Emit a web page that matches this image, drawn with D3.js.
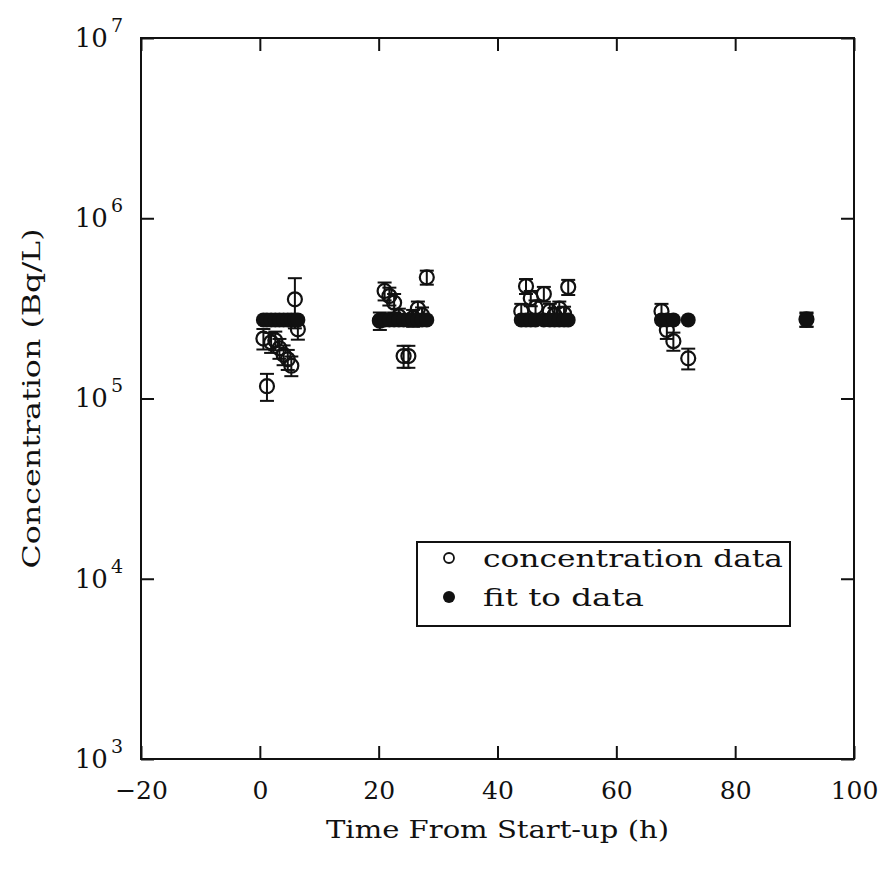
<!DOCTYPE html>
<html>
<head>
<meta charset="utf-8">
<script src="https://cdn.jsdelivr.net/npm/d3@7"></script>
<style>
  html, body { margin: 0; padding: 0; background: #fff; }
  svg { display: block; }
  text { font-family: "DejaVu Serif", "Liberation Serif", serif; fill: #111; }
</style>
</head>
<body>
<svg id="chart" width="887" height="871"></svg>
<script>
// Sampling times (h) of the measured concentrations
const times = [
  0.6, 1.2, 1.9, 2.6, 3.3, 4.0, 4.7, 5.3, 5.9, 6.4,
  20.2, 21.0, 21.8, 22.6, 23.4, 24.2, 25.0, 25.8, 26.6, 27.3, 28.1,
  44.0, 44.8, 45.6, 46.4, 47.8, 48.8, 49.6, 50.4, 51.2, 51.9,
  67.6, 68.5, 69.6, 72.1, 92.0
];
// Measured concentration (Bq/L)
const concentration = [
  2.15e5, 1.17e5, 2.05e5, 2.10e5, 1.90e5, 1.75e5, 1.65e5, 1.52e5, 3.55e5, 2.42e5,
  2.70e5, 3.95e5, 3.70e5, 3.40e5, 2.85e5, 1.72e5, 1.72e5, 2.80e5, 3.15e5, 2.90e5, 4.70e5,
  3.05e5, 4.20e5, 3.60e5, 3.20e5, 3.80e5, 3.05e5, 2.90e5, 3.15e5, 2.95e5, 4.15e5,
  3.05e5, 2.40e5, 2.08e5, 1.67e5, 2.75e5
];
// One-sigma uncertainty of each measurement (Bq/L)
const concentrationErr = [
  0.28e5, 0.20e5, 0.26e5, 0.25e5, 0.24e5, 0.22e5, 0.21e5, 0.19e5, 1.10e5, 0.30e5,
  0.30e5, 0.45e5, 0.42e5, 0.40e5, 0.30e5, 0.24e5, 0.24e5, 0.30e5, 0.30e5, 0.30e5, 0.42e5,
  0.30e5, 0.40e5, 0.35e5, 0.30e5, 0.36e5, 0.30e5, 0.28e5, 0.30e5, 0.28e5, 0.40e5,
  0.30e5, 0.26e5, 0.24e5, 0.22e5, 0.25e5
];
// Fitted concentration at each sampling time (Bq/L)
const fitValues = [
  2.73e5, 2.73e5, 2.73e5, 2.73e5, 2.73e5, 2.73e5, 2.73e5, 2.73e5, 2.73e5, 2.73e5,
  2.73e5, 2.73e5, 2.73e5, 2.73e5, 2.73e5, 2.73e5, 2.73e5, 2.73e5, 2.73e5, 2.73e5, 2.73e5,
  2.73e5, 2.73e5, 2.73e5, 2.73e5, 2.73e5, 2.73e5, 2.73e5, 2.73e5, 2.73e5, 2.73e5,
  2.73e5, 2.73e5, 2.73e5, 2.73e5, 2.73e5
];
const fitErr = [0.23e5];   // uncertainty shown on the last fitted point

const xTicks = [-20, 0, 20, 40, 60, 80, 100];
const yTicks = [1e3, 1e4, 1e5, 1e6, 1e7];
const legendLabels = ["concentration data", "fit to data"];

const svg = d3.select("#chart");
const plotL = 141, plotR = 854, plotT = 38, plotB = 759;

const x = d3.scaleLinear().domain([-20, 100]).range([plotL, plotR]);
const y = d3.scaleLog().domain([1e3, 1e7]).range([plotB, plotT]);

// ---- axes (ticks point inward on all four sides) ----
const tickLen = 13;
const axB = svg.append("g").attr("transform", `translate(0,${plotB})`)
  .call(d3.axisBottom(x).tickValues(xTicks).tickSizeInner(-tickLen).tickSizeOuter(0)
    .tickPadding(22).tickFormat(d => d < 0 ? "\u2212" + Math.abs(d) : d));
const axT = svg.append("g").attr("transform", `translate(0,${plotT})`)
  .call(d3.axisTop(x).tickValues(xTicks).tickSizeInner(-tickLen).tickSizeOuter(0).tickFormat(""));
const axL = svg.append("g").attr("transform", `translate(${plotL},0)`)
  .call(d3.axisLeft(y).tickValues(yTicks).tickSizeInner(-tickLen).tickSizeOuter(0).tickPadding(18));
const axR = svg.append("g").attr("transform", `translate(${plotR},0)`)
  .call(d3.axisRight(y).tickValues(yTicks).tickSizeInner(-tickLen).tickSizeOuter(0).tickFormat(""));

[axB, axT, axL, axR].forEach(g => {
  g.select(".domain").remove();
  g.selectAll(".tick line").attr("stroke", "#111").attr("stroke-width", 2);
});
axB.selectAll(".tick text").attr("font-size", 25).attr("font-family", "DejaVu Serif").attr("fill", "#111");

// power-of-ten labels with superscript exponents
axL.selectAll(".tick text")
  .attr("font-family", "DejaVu Serif").attr("fill", "#111")
  .attr("font-size", 26).attr("dy", "0.32em")
  .each(function(d) {
    const t = d3.select(this).text(null);
    t.append("tspan").text("10");
    t.append("tspan").attr("font-size", 19).attr("dx", 3).attr("dy", -15).text(Math.round(Math.log10(d)));
  });

// frame
svg.append("rect").attr("x", plotL).attr("y", plotT)
  .attr("width", plotR - plotL).attr("height", plotB - plotT)
  .attr("fill", "none").attr("stroke", "#111").attr("stroke-width", 2);

// ---- measured concentrations: open circles with error bars ----
const capW = 7;
const data = times.map((t, i) => ({ t, v: concentration[i], e: concentrationErr[i] }));
const errG = svg.append("g").attr("stroke", "#111").attr("stroke-width", 2).attr("fill", "none");
data.forEach(d => {
  const cx = x(d.t), y1 = y(d.v + d.e), y0 = y(d.v - d.e);
  errG.append("line").attr("x1", cx).attr("x2", cx).attr("y1", y1).attr("y2", y0);
  errG.append("line").attr("x1", cx - capW).attr("x2", cx + capW).attr("y1", y1).attr("y2", y1);
  errG.append("line").attr("x1", cx - capW).attr("x2", cx + capW).attr("y1", y0).attr("y2", y0);
});
svg.append("g").selectAll("circle").data(data).join("circle")
  .attr("cx", d => x(d.t)).attr("cy", d => y(d.v)).attr("r", 7)
  .attr("fill", "none").attr("stroke", "#111").attr("stroke-width", 2.2);

// ---- fitted values: filled circles ----
const lastT = times[times.length - 1], lastFit = fitValues[fitValues.length - 1];
const fe = svg.append("g").attr("stroke", "#111").attr("stroke-width", 2);
{
  const cx = x(lastT), a = y(lastFit + fitErr[0]), b = y(lastFit - fitErr[0]);
  fe.append("line").attr("x1", cx).attr("x2", cx).attr("y1", a).attr("y2", b);
  fe.append("line").attr("x1", cx - capW).attr("x2", cx + capW).attr("y1", a).attr("y2", a);
  fe.append("line").attr("x1", cx - capW).attr("x2", cx + capW).attr("y1", b).attr("y2", b);
}
svg.append("g").selectAll("circle").data(times.map((t, i) => ({ t, v: fitValues[i] }))).join("circle")
  .attr("cx", d => x(d.t)).attr("cy", d => y(d.v)).attr("r", 7.5)
  .attr("fill", "#111");

// ---- axis titles ----
svg.append("text").attr("x", (plotL + plotR) / 2).attr("y", 838)
  .attr("text-anchor", "middle").attr("font-size", 24)
  .attr("textLength", 343).attr("lengthAdjust", "spacingAndGlyphs")
  .text("Time From Start-up (h)");
svg.append("text").attr("transform", `translate(40,${(plotT + plotB) / 2}) rotate(-90)`)
  .attr("text-anchor", "middle").attr("font-size", 24)
  .attr("textLength", 340).attr("lengthAdjust", "spacingAndGlyphs")
  .text("Concentration (Bq/L)");

// ---- legend ----
const lg = svg.append("g");
lg.append("rect").attr("x", 417).attr("y", 542).attr("width", 373).attr("height", 84)
  .attr("fill", "#fff").attr("stroke", "#111").attr("stroke-width", 2);
lg.append("circle").attr("cx", 449).attr("cy", 558).attr("r", 5)
  .attr("fill", "none").attr("stroke", "#111").attr("stroke-width", 1.8);
lg.append("circle").attr("cx", 449).attr("cy", 597).attr("r", 6).attr("fill", "#111");
lg.append("text").attr("x", 483).attr("y", 567).attr("font-size", 25)
  .attr("textLength", 300).attr("lengthAdjust", "spacingAndGlyphs").text(legendLabels[0]);
lg.append("text").attr("x", 483).attr("y", 606).attr("font-size", 25)
  .attr("textLength", 161).attr("lengthAdjust", "spacingAndGlyphs").text(legendLabels[1]);
</script>
</body>
</html>
